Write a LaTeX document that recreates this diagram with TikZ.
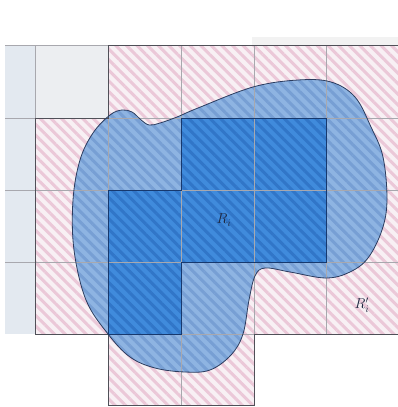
\documentclass[tikz,border=0pt]{standalone}
\usetikzlibrary{patterns.meta}
\definecolor{pinkbase}{HTML}{F8F0F4}
\definecolor{pinkstripe}{HTML}{EBC8D8}
\definecolor{blobbase}{HTML}{8EB4E2}
\definecolor{blobstripe}{HTML}{779FD4}
\definecolor{innerbase}{HTML}{408BDC}
\definecolor{innerstripe}{HTML}{3176C8}
\definecolor{leftcol}{HTML}{E3E9F0}
\definecolor{topcell}{HTML}{ECEEF1}
\definecolor{gridgray}{HTML}{A8A8AE}
\definecolor{outerline}{HTML}{505058}
\definecolor{blobline}{HTML}{2C3C5E}
\definecolor{innerline}{HTML}{17396E}
\definecolor{lblcol}{HTML}{1E2840}
\tikzset{
  hatchfill/.style 2 args={preaction={fill=#1},
     pattern={Lines[angle=-45,distance=7.5pt,line width=3pt]}, pattern color=#2},
  gridline/.style={draw=gridgray, line width=0.5pt},
  lbl/.style={font=\Large, text=lblcol}
}
\begin{document}
\begin{tikzpicture}[x=1pt,y=-1pt]
\useasboundingbox (0,0) rectangle (398,407);
% light background cells
\fill[leftcol] (5,45) rectangle (35,334);
\fill[topcell] (35,45) rectangle (108,118);
\fill[black!5] (252,37) rectangle (398,45);
% outer approximation
\path[hatchfill={pinkbase}{pinkstripe}]
  (108,45) -- (398,45) -- (398,334) -- (254,334) -- (254,405) -- (108,405)
  -- (108,334) -- (35,334) -- (35,118) -- (108,118) -- cycle;
% the set
\path[hatchfill={blobbase}{blobstripe}]
  plot[smooth cycle, tension=0.6] coordinates {
  (108,334) (130,357) (155,368) (185,372) (210,370) (231,355) (243,334)
  (249,300) (255,276) (265,268) (290,272) (326,278) (350,272) (368,258)
  (382,230) (387,200) (383,157) (371,127) (355,97) (331,82) (298,80)
  (253,87) (198,108) (177,117) (160,123) (149,125) (140,119) (132,112)
  (122,110) (110,115) (93,133) (80,160) (73,200) (74,250) (86,300)};
% inner approximation
\path[hatchfill={innerbase}{innerstripe}]
  (181,118) -- (326,118) -- (326,262) -- (181,262) -- (181,334) -- (108,334)
  -- (108,190) -- (181,190) -- cycle;
% grid
\foreach \y in {45,118,190,262} \draw[gridline] (5,\y) -- (398,\y);
\draw[gridline] (35,334) -- (398,334);
\draw[gridline] (35,45) -- (35,334);
\foreach \x in {108,181,254} \draw[gridline] (\x,45) -- (\x,405);
\draw[gridline] (326,45) -- (326,334);
% outlines
\draw[outerline, line width=0.9pt]
  (398,45) -- (108,45) -- (108,118) -- (35,118) -- (35,334) -- (108,334)
  -- (108,405) -- (254,405) -- (254,334) -- (398,334);
\draw[blobline, line width=0.8pt]
  plot[smooth cycle, tension=0.6] coordinates {
  (108,334) (130,357) (155,368) (185,372) (210,370) (231,355) (243,334)
  (249,300) (255,276) (265,268) (290,272) (326,278) (350,272) (368,258)
  (382,230) (387,200) (383,157) (371,127) (355,97) (331,82) (298,80)
  (253,87) (198,108) (177,117) (160,123) (149,125) (140,119) (132,112)
  (122,110) (110,115) (93,133) (80,160) (73,200) (74,250) (86,300)};
\draw[innerline, line width=0.9pt]
  (181,118) -- (326,118) -- (326,262) -- (181,262) -- (181,334) -- (108,334)
  -- (108,190) -- (181,190) -- cycle;
% labels
\node[lbl] (ri) at (224,220) {$R_i$};
\node[lbl] (rpi) at (362,305) {$R'_i$};
\end{tikzpicture}
\end{document}
